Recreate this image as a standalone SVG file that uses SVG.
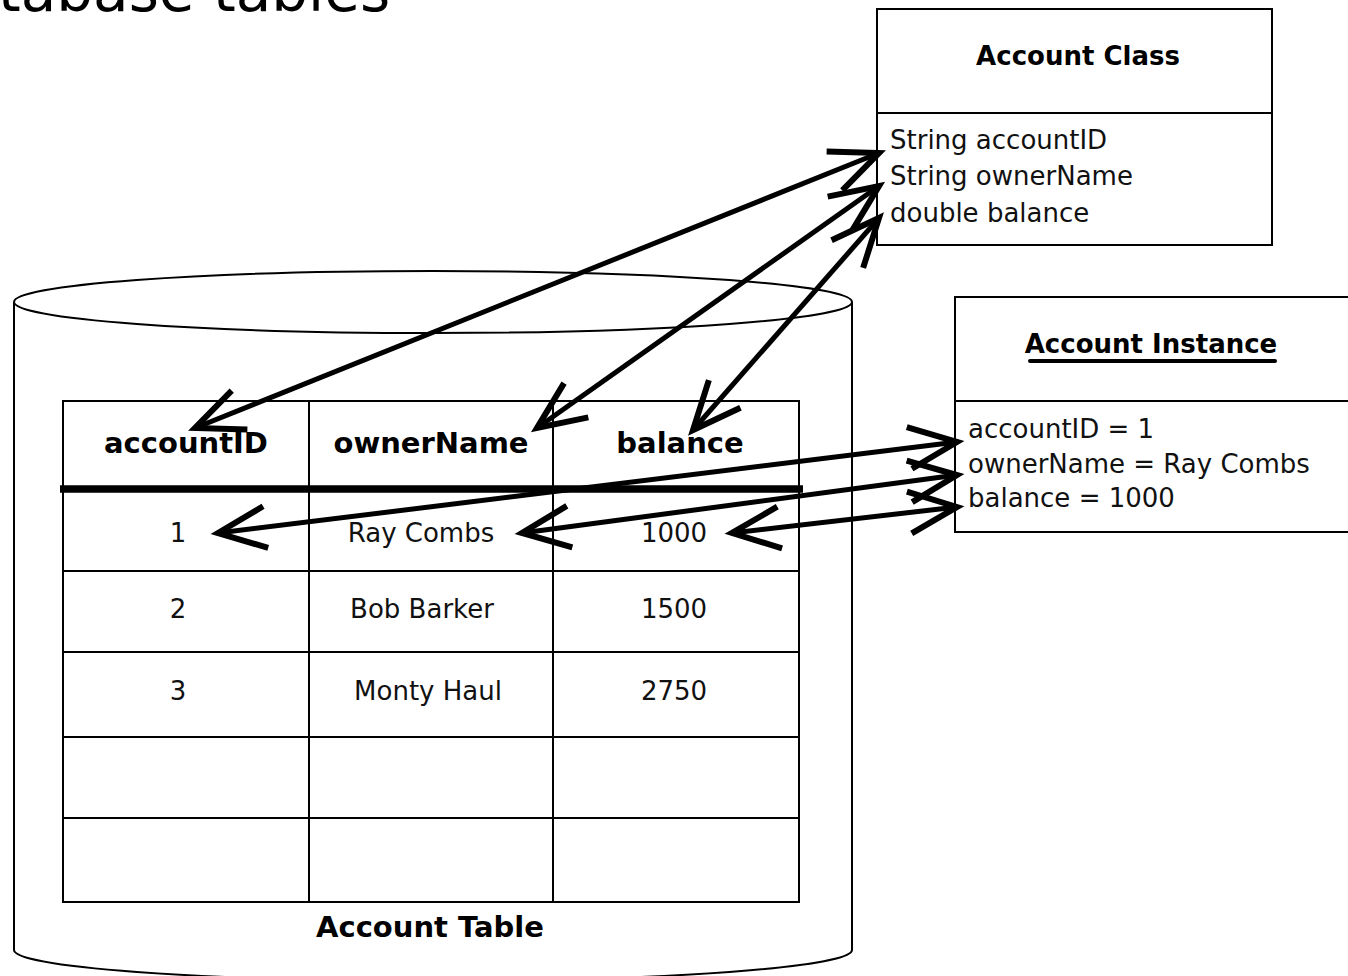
<svg xmlns="http://www.w3.org/2000/svg" width="1348" height="976" viewBox="0 0 1348 976">
<style>
.bx{fill:#fff;stroke:#000;stroke-width:2}
.ln{stroke:#000;stroke-width:2;fill:none}
.t{font-family:"DejaVu Sans",Verdana,sans-serif;font-size:26px;fill:#111}
.b{font-family:"DejaVu Sans",Verdana,sans-serif;font-weight:bold;fill:#000}
.c{text-anchor:middle}
.ar{stroke:#000;stroke-width:5;fill:none;marker-start:url(#ah);marker-end:url(#ah)}
</style>
<defs>
<marker id="ah" markerUnits="userSpaceOnUse" orient="auto-start-reverse" markerWidth="60" markerHeight="60" viewBox="-55 -30 60 60" refX="0" refY="0" overflow="visible">
<path d="M-48,-21 L0,0 L-48,21" fill="none" stroke="#000" stroke-width="6"/>
</marker>
</defs>
<rect width="1348" height="976" fill="#fff"/>
<text x="-2" y="11" font-family="DejaVu Sans,sans-serif" font-size="58" fill="#000">tabase tables</text>

<g id="account-table">
<path class="ln" d="M14,302 L14,950 A419,31 0 0 0 852,950 L852,302"/>
<ellipse class="ln" cx="433" cy="302" rx="419" ry="31"/>
<rect class="bx" x="63" y="401" width="736" height="501"/>
<path class="ln" d="M309,401 V902 M553,401 V902 M63,571 H799 M63,652 H799 M63,737 H799 M63,818 H799"/>
<line x1="60" y1="489" x2="803" y2="489" stroke="#000" stroke-width="7.5"/>
<text class="b c" font-size="29" x="186" y="453">accountID</text>
<text class="b c" font-size="29" x="431" y="453">ownerName</text>
<text class="b c" font-size="29" x="680" y="453">balance</text>
<text class="t c" x="178" y="542">1</text>
<text class="t c" x="421" y="542">Ray Combs</text>
<text class="t c" x="674" y="542">1000</text>
<text class="t c" x="178" y="618">2</text>
<text class="t c" x="422" y="618">Bob Barker</text>
<text class="t c" x="674" y="618">1500</text>
<text class="t c" x="178" y="700">3</text>
<text class="t c" x="428" y="700">Monty Haul</text>
<text class="t c" x="674" y="700">2750</text>
<text class="b c" font-size="29" x="430" y="937">Account Table</text>
</g>

<g id="account-class">
<rect class="bx" x="877" y="9" width="395" height="236"/>
<line class="ln" x1="877" y1="113" x2="1272" y2="113"/>
<text class="b c" font-size="26" x="1078" y="65">Account Class</text>
<text class="t" x="890" y="149">String accountID</text>
<text class="t" x="890" y="185">String ownerName</text>
<text class="t" x="890" y="222">double balance</text>
</g>

<g id="account-instance">
<rect class="bx" x="955" y="297" width="400" height="235"/>
<line class="ln" x1="955" y1="401" x2="1348" y2="401"/>
<text class="b c" font-size="26" x="1151" y="353">Account Instance</text>
<line x1="1030" y1="361" x2="1275" y2="361" stroke="#000" stroke-width="4" stroke-linecap="round"/>
<text class="t" x="968" y="438">accountID = 1</text>
<text class="t" x="968" y="473">ownerName = Ray Combs</text>
<text class="t" x="968" y="507">balance = 1000</text>
</g>

<g id="connectors">
<line class="ar" x1="195" y1="428" x2="879" y2="153"/>
<line class="ar" x1="537" y1="428" x2="879" y2="186"/>
<line class="ar" x1="693" y1="430" x2="879" y2="218"/>
<line class="ar" x1="218" y1="533" x2="957" y2="442"/>
<line class="ar" x1="522" y1="533" x2="957" y2="475"/>
<line class="ar" x1="732" y1="533" x2="957" y2="507"/>
</g>
</svg>
